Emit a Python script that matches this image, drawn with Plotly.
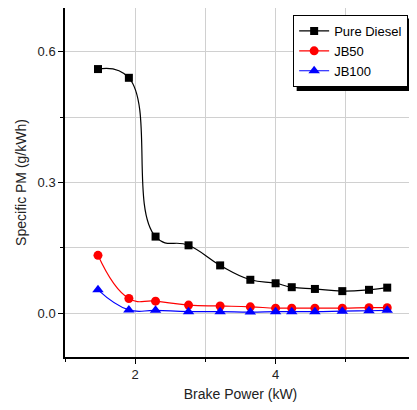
import plotly.graph_objects as go

# --- data ---
power = [1.47, 1.91, 2.29, 2.76, 3.21, 3.64, 4.0, 4.23, 4.56, 4.95, 5.33, 5.59]
pure_diesel = [0.56, 0.54, 0.176, 0.156, 0.11, 0.077, 0.069, 0.060, 0.056, 0.051, 0.054, 0.059]
jb50 = [0.133, 0.034, 0.028, 0.019, 0.017, 0.015, 0.012, 0.012, 0.012, 0.012, 0.013, 0.013]
jb100 = [0.054, 0.008, 0.007, 0.004, 0.004, 0.003, 0.004, 0.004, 0.004, 0.005, 0.006, 0.007]

fig = go.Figure()

series = [
    ("Pure Diesel", pure_diesel, "black", "square", 8),
    ("JB50", jb50, "red", "circle", 9),
    ("JB100", jb100, "blue", "triangle-up", 10),
]
for name, vals, col, sym, sz in series:
    fig.add_trace(go.Scatter(
        x=power, y=vals, name=name, mode="lines+markers",
        line=dict(color=col, width=1.2, shape="spline", smoothing=1.3),
        marker=dict(color=col, symbol=sym, size=sz),
    ))

axis_common = dict(
    showline=True, linecolor="black", linewidth=1.5, mirror=True,
    ticks="outside", ticklen=5, tickcolor="black",
    showgrid=True, gridcolor="#d0d0d0", gridwidth=1,
    zeroline=False, tickfont=dict(size=13, color="#222"),
    automargin=False,
)

fig.update_xaxes(
    range=[1, 6], tickvals=[2, 4, 6],
    minor=dict(dtick=1, tick0=0, showgrid=True, gridcolor="#d0d0d0", ticks="outside", ticklen=3, tickcolor="black"),
    title=dict(text="Brake Power (kW)", font=dict(size=14, color="#222"), standoff=8),
    **axis_common,
)
fig.update_yaxes(
    range=[-0.1, 0.7], tickvals=[0.0, 0.3, 0.6], tickformat=".1f",
    minor=dict(dtick=0.15, tick0=0, showgrid=True, gridcolor="#d0d0d0", ticks="outside", ticklen=3, tickcolor="black"),
    title=dict(text="Specific PM (g/kWh)", font=dict(size=14, color="#222"), standoff=8),
    **axis_common,
)

# legend drop shadow
fig.add_shape(type="rect", xref="paper", yref="paper",
              x0=0.66, x1=0.996, y0=0.762, y1=0.97,
              fillcolor="black", line=dict(width=0), layer="above")

# page body adds an 8px offset, so the figure is sized to fit the window
fig.update_layout(
    width=409, height=402,
    margin=dict(l=57, r=1, t=0, b=53),
    plot_bgcolor="white", paper_bgcolor="white",
    font=dict(family="Liberation Sans, Arial, sans-serif"),
    legend=dict(x=0.65, y=0.98, xanchor="left", yanchor="top",
                bgcolor="white", bordercolor="black", borderwidth=1,
                font=dict(size=13, color="black"), tracegroupgap=0,
                itemwidth=30),
)

fig.write_html("out.html")
